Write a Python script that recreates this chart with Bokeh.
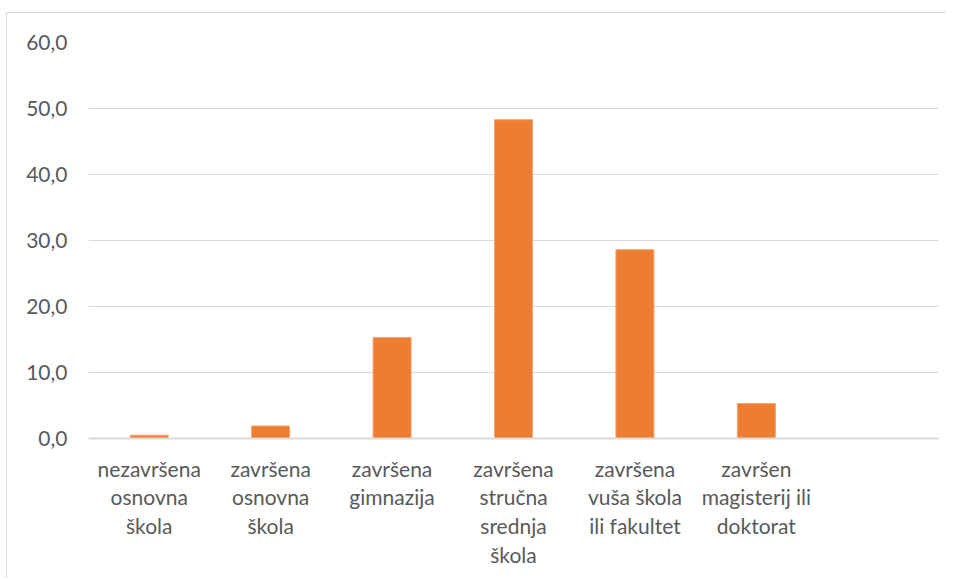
from bokeh.plotting import figure
from bokeh.models import FixedTicker, Range1d
from bokeh.embed import file_html
from bokeh.resources import INLINE

categories = [
    "nezavršena\nosnovna\nškola",
    "završena\nosnovna\nškola",
    "završena\ngimnazija",
    "završena\nstručna\nsrednja\nškola",
    "završena\nvuša škola\nili fakultet",
    "završen\nmagisterij ili\ndoktorat",
]
values = [0.5, 1.9, 15.3, 48.3, 28.6, 5.3]
y_ticks = [0, 10, 20, 30, 40, 50, 60]
n_slots = 7  # one empty category slot at the end

xs = list(range(1, len(categories) + 1))

FONT = "Lato"
TXT = "#595959"
GRID = "#d9d9d9"

p = figure(width=940, height=566, output_backend="svg", toolbar_location=None,
           x_range=Range1d(0.5, n_slots + 0.5), y_range=Range1d(0, 60),
           min_border_left=81, min_border_right=9, min_border_top=29, min_border_bottom=141,
           outline_line_color=None, background_fill_color="white", border_fill_color="white")
p.styles = {"border-left": "1px solid #d9d9d9", "border-top": "1px solid #d9d9d9",
            "margin-left": "6px", "margin-top": "12px"}

p.vbar(x=xs, top=values, width=0.313, fill_color="#ED7D31", line_color="#F4A46F", line_width=1)

p.xaxis.ticker = FixedTicker(ticks=xs)
p.xaxis.major_label_overrides = {x: c for x, c in zip(xs, categories)}
p.xaxis.axis_line_color = GRID
p.xaxis.axis_line_width = 2
p.xaxis.major_tick_line_color = None
p.xaxis.minor_tick_line_color = None
p.xaxis.major_label_standoff = 11
p.xaxis.major_label_text_font = FONT
p.xaxis.major_label_text_font_size = "21px"
p.xaxis.major_label_text_color = TXT
p.xaxis.major_label_text_line_height = 1.15
p.xaxis.major_label_orientation = "horizontal"

p.yaxis.ticker = FixedTicker(ticks=y_ticks)
p.yaxis.major_label_overrides = {t: f"{t:.1f}".replace(".", ",") for t in y_ticks}
p.yaxis.axis_line_color = None
p.yaxis.major_tick_line_color = None
p.yaxis.minor_tick_line_color = None
p.yaxis.major_label_standoff = 15
p.yaxis.major_label_text_font = FONT
p.yaxis.major_label_text_font_size = "21px"
p.yaxis.major_label_text_color = TXT

p.xgrid.grid_line_color = None
p.ygrid.ticker = FixedTicker(ticks=y_ticks)
p.ygrid.grid_line_color = GRID
p.ygrid.grid_line_width = 1

open("out.html", "w").write(file_html(p, INLINE))
